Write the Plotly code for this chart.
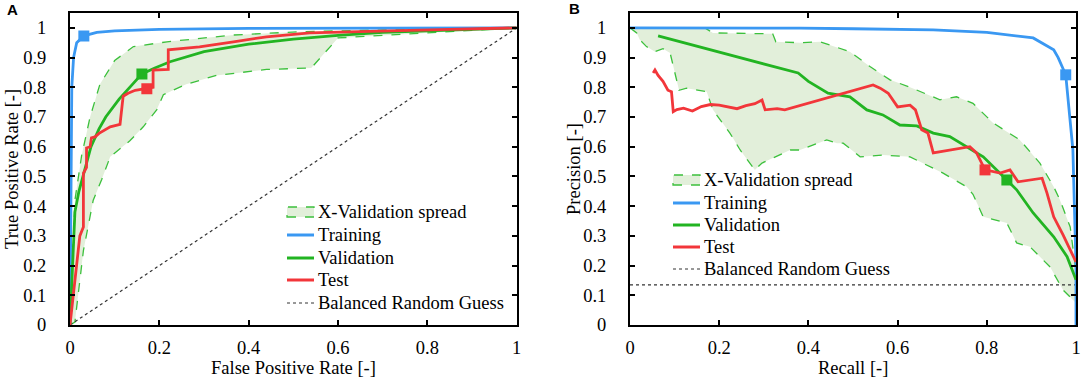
import plotly.graph_objects as go

# ---------------- Panel A: ROC ----------------
roc_train_fpr = [0, 0.002, 0.004, 0.008, 0.015, 0.031, 0.06, 0.1, 0.2, 0.4, 0.6, 0.8, 1.0]
roc_train_tpr = [0, 0.60, 0.80, 0.90, 0.95, 0.973, 0.985, 0.99, 0.995, 0.998, 0.999, 1.0, 1.0]

roc_val_fpr = [0, 0.005, 0.011, 0.02, 0.029, 0.047, 0.065, 0.08, 0.11, 0.14, 0.161, 0.19, 0.224, 0.3, 0.4, 0.5, 0.6, 0.7, 0.8, 0.9, 1.0]
roc_val_tpr = [0, 0.20, 0.38, 0.45, 0.50, 0.60, 0.66, 0.70, 0.76, 0.81, 0.845, 0.865, 0.886, 0.92, 0.945, 0.962, 0.975, 0.985, 0.99, 0.995, 1.0]

roc_test_fpr = [0, 0.022, 0.03, 0.03, 0.037, 0.037, 0.045, 0.048, 0.056, 0.065, 0.09, 0.112, 0.119, 0.13, 0.146, 0.172, 0.186, 0.186, 0.22, 0.22, 0.29, 0.366, 0.44, 0.537, 0.7, 0.85, 1.0]
roc_test_tpr = [0, 0.30, 0.33, 0.51, 0.53, 0.596, 0.60, 0.63, 0.633, 0.645, 0.667, 0.675, 0.77, 0.78, 0.79, 0.795, 0.80, 0.858, 0.86, 0.926, 0.936, 0.953, 0.97, 0.983, 0.99, 0.995, 1.0]

roc_up_fpr = [0, 0.011, 0.026, 0.045, 0.067, 0.1, 0.142, 0.217, 0.366, 0.515, 0.7, 0.85, 1.0]
roc_up_tpr = [0, 0.42, 0.57, 0.70, 0.81, 0.89, 0.937, 0.953, 0.976, 0.987, 0.993, 0.997, 1.0]

roc_lo_fpr = [0, 0.011, 0.03, 0.052, 0.071, 0.078, 0.09, 0.134, 0.164, 0.194, 0.209, 0.26, 0.328, 0.44, 0.515, 0.54, 0.6, 0.75, 0.866, 1.0]
roc_lo_tpr = [0, 0.01, 0.25, 0.42, 0.49, 0.52, 0.566, 0.62, 0.667, 0.724, 0.775, 0.81, 0.84, 0.86, 0.865, 0.865, 0.966, 0.978, 0.987, 1.0]

roc_guess_x = [0, 1]
roc_guess_y = [0, 1]

roc_pts_fpr = [0.031, 0.161, 0.172]
roc_pts_tpr = [0.973, 0.845, 0.795]

# ---------------- Panel B: Precision-Recall ----------------
pr_train_rec = [0, 0.2, 0.381, 0.5, 0.68, 0.8, 0.904, 0.95, 0.96, 0.977, 0.993, 1.0, 1.0]
pr_train_prec = [1.0, 1.0, 0.999, 0.997, 0.993, 0.985, 0.966, 0.926, 0.90, 0.842, 0.59, 0.2, 0.0]

pr_val_rec = [0.063, 0.377, 0.40, 0.426, 0.444, 0.493, 0.531, 0.567, 0.605, 0.643, 0.68, 0.717, 0.755, 0.792, 0.845, 0.867, 0.904, 0.95, 0.98, 1.0]
pr_val_prec = [0.973, 0.848, 0.82, 0.797, 0.78, 0.768, 0.724, 0.707, 0.673, 0.67, 0.646, 0.634, 0.60, 0.566, 0.488, 0.455, 0.377, 0.297, 0.23, 0.152]

pr_test_rec = [0.052, 0.056, 0.063, 0.074, 0.085, 0.093, 0.097, 0.105, 0.12, 0.14, 0.16, 0.18, 0.20, 0.22, 0.24, 0.26, 0.28, 0.296, 0.303, 0.33, 0.347, 0.545, 0.561, 0.579, 0.60, 0.628, 0.64, 0.654, 0.668, 0.68, 0.762, 0.777, 0.796, 0.83, 0.852, 0.87, 0.924, 0.935, 0.95, 0.971, 0.987, 1.0]
pr_test_prec = [0.848, 0.858, 0.84, 0.82, 0.79, 0.785, 0.718, 0.725, 0.73, 0.72, 0.735, 0.742, 0.74, 0.735, 0.728, 0.738, 0.745, 0.757, 0.724, 0.728, 0.724, 0.808, 0.797, 0.78, 0.734, 0.74, 0.724, 0.657, 0.646, 0.579, 0.60, 0.579, 0.522, 0.511, 0.522, 0.482, 0.494, 0.444, 0.364, 0.303, 0.253, 0.212]

pr_up_rec = [0, 0.168, 0.186, 0.32, 0.327, 0.381, 0.426, 0.493, 0.538, 0.583, 0.628, 0.695, 0.732, 0.769, 0.814, 0.874, 0.919, 0.95, 0.964, 0.987, 1.0]
pr_up_prec = [1.0, 1.0, 0.983, 0.98, 0.953, 0.95, 0.953, 0.92, 0.87, 0.825, 0.80, 0.758, 0.768, 0.746, 0.68, 0.623, 0.545, 0.465, 0.421, 0.33, 0.18]

pr_lo_rec = [0, 0.015, 0.022, 0.037, 0.056, 0.074, 0.09, 0.105, 0.11, 0.127, 0.15, 0.172, 0.186, 0.224, 0.247, 0.28, 0.296, 0.359, 0.381, 0.441, 0.464, 0.478, 0.516, 0.567, 0.628, 0.702, 0.755, 0.769, 0.792, 0.845, 0.867, 0.897, 0.942, 0.971, 1.0]
pr_lo_prec = [1.0, 0.983, 0.96, 0.937, 0.92, 0.93, 0.915, 0.814, 0.79, 0.797, 0.79, 0.785, 0.724, 0.646, 0.589, 0.522, 0.545, 0.589, 0.589, 0.623, 0.612, 0.612, 0.566, 0.572, 0.566, 0.511, 0.465, 0.44, 0.364, 0.343, 0.276, 0.263, 0.195, 0.118, 0.074]

pr_guess_x = [0, 1]
pr_guess_y = [0.135, 0.135]

pr_pts_rec = [0.977, 0.845, 0.796]
pr_pts_prec = [0.842, 0.488, 0.522]

x_ticks = [0, 0.2, 0.4, 0.6, 0.8, 1]
x_ticktext = ["0", "0.2", "0.4", "0.6", "0.8", "1"]
y_ticks = [0, 0.1, 0.2, 0.3, 0.4, 0.5, 0.6, 0.7, 0.8, 0.9, 1]
y_ticktext = ["0", "0.1", "0.2", "0.3", "0.4", "0.5", "0.6", "0.7", "0.8", "0.9", "1"]

legend_labels = ["X-Validation spread", "Training", "Validation", "Test", "Balanced Random Guess"]

BLUE = "#3A98F2"
GREEN = "#22B422"
RED = "#F2363A"
FILL = "#E2EFDA"
DASH = "#3CC03C"
GUESS = "#333333"
FONT = "Liberation Serif"
BOLD_FONT = "Liberation Sans"
FS = 18.5

W, H = 1084, 380

fig = go.Figure()


def add_panel(xa, ya, up_x, up_y, lo_x, lo_y, gx, gy, tr_x, tr_y, va_x, va_y, te_x, te_y, pts_x, pts_y):
    fig.add_trace(go.Scatter(x=lo_x, y=lo_y, mode="lines", line=dict(color=DASH, width=1.3, dash="dash"),
                             xaxis=xa, yaxis=ya, showlegend=False, hoverinfo="skip"))
    fig.add_trace(go.Scatter(x=up_x, y=up_y, mode="lines", line=dict(color=DASH, width=1.3, dash="dash"),
                             fill="tonexty", fillcolor=FILL, name=legend_labels[0],
                             xaxis=xa, yaxis=ya, showlegend=False))
    fig.add_trace(go.Scatter(x=gx, y=gy, mode="lines", line=dict(color=GUESS, width=1.2, dash="dot"),
                             name=legend_labels[4], xaxis=xa, yaxis=ya, showlegend=False))
    fig.add_trace(go.Scatter(x=tr_x, y=tr_y, mode="lines", line=dict(color=BLUE, width=2.8),
                             name=legend_labels[1], xaxis=xa, yaxis=ya, showlegend=False))
    fig.add_trace(go.Scatter(x=va_x, y=va_y, mode="lines", line=dict(color=GREEN, width=2.8),
                             name=legend_labels[2], xaxis=xa, yaxis=ya, showlegend=False))
    fig.add_trace(go.Scatter(x=te_x, y=te_y, mode="lines", line=dict(color=RED, width=2.8),
                             name=legend_labels[3], xaxis=xa, yaxis=ya, showlegend=False))
    fig.add_trace(go.Scatter(x=pts_x, y=pts_y, mode="markers",
                             marker=dict(symbol="square", size=11, color=[BLUE, GREEN, RED], line=dict(width=0)),
                             xaxis=xa, yaxis=ya, showlegend=False))


add_panel("x", "y", roc_up_fpr, roc_up_tpr, roc_lo_fpr, roc_lo_tpr, roc_guess_x, roc_guess_y,
          roc_train_fpr, roc_train_tpr, roc_val_fpr, roc_val_tpr, roc_test_fpr, roc_test_tpr, roc_pts_fpr, roc_pts_tpr)
add_panel("x2", "y2", pr_up_rec, pr_up_prec, pr_lo_rec, pr_lo_prec, pr_guess_x, pr_guess_y,
          pr_train_rec, pr_train_prec, pr_val_rec, pr_val_prec, pr_test_rec, pr_test_prec, pr_pts_rec, pr_pts_prec)

# ---- manual legends (legend key glyphs + labels, positioned in pixels) ----
shapes = []
annotations = []


def px_x(v):
    return v / W


def px_y(v):
    return (H - v) / H


def add_legend(sx0, sx1, tx, rows):
    styles = [None, (BLUE, 3, "solid"), (GREEN, 3, "solid"), (RED, 3, "solid"), (GUESS, 1, "dot")]
    for label, yrow, st in zip(legend_labels, rows, styles):
        if st is None:
            shapes.append(dict(type="rect", xref="paper", yref="paper",
                               x0=px_x(sx0), x1=px_x(sx1), y0=px_y(yrow + 5), y1=px_y(yrow - 5),
                               fillcolor=FILL, line=dict(color=DASH, width=1.3, dash="dash")))
        else:
            shapes.append(dict(type="line", xref="paper", yref="paper",
                               x0=px_x(sx0), x1=px_x(sx1), y0=px_y(yrow), y1=px_y(yrow),
                               line=dict(color=st[0], width=st[1], dash=st[2])))
        annotations.append(dict(text=label, x=px_x(tx), y=px_y(yrow), xref="paper", yref="paper",
                                showarrow=False, xanchor="left", yanchor="middle",
                                font=dict(family=FONT, size=FS, color="black")))


add_legend(287, 314, 316, [212, 235, 258, 280, 303])
add_legend(673, 700, 702, [180, 203, 225, 247, 269])

annotations += [
    dict(text="False Positive Rate [-]", x=px_x(293), y=px_y(368), xref="paper", yref="paper",
         showarrow=False, font=dict(family=FONT, size=FS), xanchor="center", yanchor="middle"),
    dict(text="Recall [-]", x=px_x(853), y=px_y(368), xref="paper", yref="paper",
         showarrow=False, font=dict(family=FONT, size=FS), xanchor="center", yanchor="middle"),
    dict(text="True Positive Rate [-]", x=px_x(12), y=px_y(169), xref="paper", yref="paper",
         showarrow=False, textangle=-90, font=dict(family=FONT, size=FS), xanchor="center", yanchor="middle"),
    dict(text="Precision [-]", x=px_x(574), y=px_y(169), xref="paper", yref="paper",
         showarrow=False, textangle=-90, font=dict(family=FONT, size=FS), xanchor="center", yanchor="middle"),
    dict(text="<b>A</b>", x=px_x(12), y=px_y(10), xref="paper", yref="paper",
         showarrow=False, font=dict(family=BOLD_FONT, size=15), xanchor="center", yanchor="middle"),
    dict(text="<b>B</b>", x=px_x(574), y=px_y(9), xref="paper", yref="paper",
         showarrow=False, font=dict(family=BOLD_FONT, size=15), xanchor="center", yanchor="middle"),
]

ydom = [(H - 325) / H, (H - 13) / H]

axis_common = dict(showgrid=False, zeroline=False, showline=True, linecolor="black", linewidth=2,
                   mirror="ticks", ticks="inside", ticklen=5, tickwidth=1.5, tickcolor="black",
                   automargin=False, tickfont=dict(family=FONT, size=FS, color="black"))

fig.update_layout(
    width=W, height=H, margin=dict(l=0, r=0, t=0, b=0, autoexpand=False),
    paper_bgcolor="white", plot_bgcolor="white", showlegend=False,
    font=dict(family=FONT, size=FS, color="black"),
    xaxis=dict(domain=[70 / W, 516.7 / W], range=[0, 1], tickvals=x_ticks, ticktext=x_ticktext,
               ticklabelstandoff=5, anchor="y", **axis_common),
    yaxis=dict(domain=ydom, range=[0, 1.05], tickvals=y_ticks, ticktext=y_ticktext,
               ticklabelstandoff=18, anchor="x", **axis_common),
    xaxis2=dict(domain=[630 / W, 1076 / W], range=[0, 1], tickvals=x_ticks, ticktext=x_ticktext,
                ticklabelstandoff=5, anchor="y2", **axis_common),
    yaxis2=dict(domain=ydom, range=[0, 1.05], tickvals=y_ticks, ticktext=y_ticktext,
                ticklabelstandoff=18, anchor="x2", **axis_common),
    shapes=shapes,
    annotations=annotations,
)

fig.write_html("out.html", config={"displayModeBar": False},
               post_script="document.body.style.margin='0';document.body.style.padding='0';"
                           "document.body.style.overflow='hidden';")
